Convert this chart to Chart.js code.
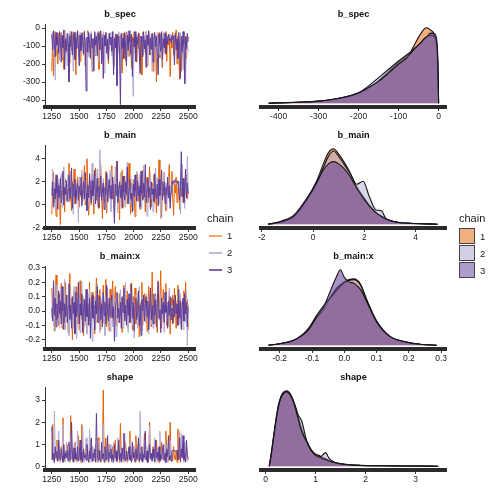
<!DOCTYPE html>
<html>
<head>
<meta charset="utf-8">
<script src="https://cdn.jsdelivr.net/npm/chart.js@4.4.1/dist/chart.umd.min.js"></script>
<style>
  html, body { margin: 0; padding: 0; background: #fff; }
  body { width: 504px; height: 504px; position: relative; overflow: hidden; font-family: "Liberation Sans", Arial, sans-serif; color: #1a1a1a; }
  canvas { position: absolute; }
  .lg { position: absolute; white-space: nowrap; }
  .lg-title { font-size: 11px; line-height: 13px; }
  .lg-lab { font-size: 9.5px; line-height: 11px; }
  .lg-line { position: absolute; height: 2px; width: 13px; }
  .lg-box { position: absolute; width: 16px; height: 16px; border: 1px solid #444; box-sizing: border-box; }
</style>
</head>
<body>
<canvas id="trace0" width="205" height="129" style="left:0px;top:0px"></canvas>
<canvas id="trace1" width="205" height="129" style="left:0px;top:121px"></canvas>
<canvas id="trace2" width="205" height="129" style="left:0px;top:242px"></canvas>
<canvas id="trace3" width="205" height="129" style="left:0px;top:363px"></canvas>
<canvas id="dens0" width="210" height="129" style="left:250px;top:0px"></canvas>
<canvas id="dens1" width="210" height="129" style="left:250px;top:121px"></canvas>
<canvas id="dens2" width="210" height="129" style="left:250px;top:242px"></canvas>
<canvas id="dens3" width="210" height="129" style="left:250px;top:363px"></canvas>

<!-- legend for trace lines -->
<div class="lg lg-title" style="left:207px;top:212px">chain</div>
<div class="lg-line" style="left:209px;top:235px;background:rgba(230,97,1,0.55)"></div>
<div class="lg-line" style="left:209px;top:252px;background:rgba(178,171,210,0.8)"></div>
<div class="lg-line" style="left:209px;top:269px;background:rgba(94,60,153,0.8)"></div>
<div class="lg lg-lab" style="left:227px;top:230px">1</div>
<div class="lg lg-lab" style="left:227px;top:247px">2</div>
<div class="lg lg-lab" style="left:227px;top:264px">3</div>

<!-- legend for densities -->
<div class="lg lg-title" style="left:459px;top:212px">chain</div>
<div class="lg-box" style="left:459px;top:228px;background:#F2B080"></div>
<div class="lg-box" style="left:459px;top:245px;background:#D4CFE6"></div>
<div class="lg-box" style="left:459px;top:262px;background:#AE9DCC"></div>
<div class="lg lg-lab" style="left:480px;top:231px">1</div>
<div class="lg lg-lab" style="left:480px;top:248px">2</div>
<div class="lg lg-lab" style="left:480px;top:265px">3</div>

<script>
const chains = ['1', '2', '3']
const traceColors = ['#E66101', '#B2ABD2', '#5E3C99']
const densFills = ['rgba(230,97,1,0.5)', 'rgba(178,171,210,0.5)', 'rgba(94,60,153,0.55)']

// iterations shown in the trace plots (thinned draws)
const iterStart = 1250
const iterEnd = 2500
const iterTicks = [1250, 1500, 1750, 2000, 2250, 2500]

// ---- b_spec ----
const bSpecTrace1 = [
  -240,-40,-265,-90,-20,-150,-60,-200,-30,-115,
  -70,-25,-175,-45,-230,-15,-100,-55,-140,-35,
  -80,-195,-30,-125,-60,-20,-165,-45,-260,-75,
  -20,-110,-40,-185,-55,-95,-25,-150,-35,-210,
  -65,-130,-15,-90,-45,-170,-30,-240,-60,-105,
  -25,-155,-50,-85,-20,-230,-40,-120,-70,-35,
  -180,-45,-100,-25,-140,-60,-200,-30,-90,-55,
  -130,-20,-230,-50,-110,-35,-165,-75,-25,-145,
  -40,-95,-250,-30,-125,-60,-180,-20,-85,-45,
  -155,-35,-105,-225,-50,-75,-20,-140,-40,-190,
  -60,-115,-30,-175,-45,-260,-25,-95,-70,-135,
  -20,-210,-50,-100,-35,-150,-65,-30,-240,-80,
  -40,-125,-300,-55,-90,-25,-165,-45,-110,-220,
  -30,-70,-140,-20,-185,-50,-95,-35,-270,-60,
  -110,-25,-150,-40,-80,-10,-200,-45,-130,-285,
  -30,-240,-60,-105,-20,-290,-45,-170,-80,-50]
const bSpecTrace2 = [
  -60,-20,-140,-35,-290,-75,-25,-115,-50,-180,
  -30,-95,-160,-40,-70,-20,-125,-55,-210,-35,
  -85,-15,-150,-45,-100,-240,-30,-130,-65,-20,
  -110,-50,-175,-25,-80,-140,-40,-95,-15,-200,
  -60,-125,-30,-160,-45,-90,-20,-230,-55,-105,
  -35,-150,-70,-25,-185,-50,-115,-30,-80,-140,
  -20,-250,-60,-100,-35,-165,-45,-120,-25,-90,
  -155,-40,-75,-210,-30,-110,-55,-135,-20,-95,
  -45,-190,-30,-120,-65,-60,-40,-100,-25,-160,
  -70,-35,-145,-55,-225,-380,-105,-60,-175,-40,
  -90,-25,-130,-260,-50,-80,-35,-150,-45,-115,
  -20,-200,-65,-95,-30,-140,-55,-240,-35,-85,
  -125,-40,-170,-25,-100,-60,-150,-30,-215,-50,
  -75,-20,-135,-45,-90,-40,-60,-55,-35,-70,
  -50,-80,-45,-65,-40,-75,-55,-60,-50,-180,
  -25,-140,-60,-230,-35,-110,-310,-45,-90,-130]
const bSpecTrace3 = [
  -35,-120,-15,-80,-160,-25,-95,-50,-140,-20,
  -70,-190,-40,-110,-10,-230,-60,-130,-30,-85,
  -300,-45,-105,-20,-150,-65,-25,-175,-55,-115,
  -15,-90,-210,-40,-125,-30,-70,-145,-20,-100,
  -350,-50,-135,-25,-85,-165,-35,-110,-60,-240,
  -20,-95,-45,-155,-30,-75,-120,-15,-200,-55,
  -280,-40,-100,-25,-140,-65,-180,-30,-90,-50,
  -130,-20,-260,-60,-110,-35,-320,-80,-45,-150,
  -425,-30,-115,-55,-170,-25,-95,-210,-40,-125,
  -15,-75,-145,-35,-270,-60,-105,-20,-185,-50,
  -90,-30,-135,-250,-45,-80,-160,-20,-115,-65,
  -220,-40,-95,-15,-150,-55,-120,-30,-190,-70,
  -25,-105,-45,-160,-260,-35,-85,-130,-20,-175,
  -60,-110,-30,-145,-50,-90,-35,-70,-55,-80,
  -40,-65,-45,-205,-30,-120,-60,-170,-25,-100,
  -280,-45,-135,-20,-90,-310,-50,-115,-30,-75]
const bSpecTicks = [-400, -300, -200, -100, 0]
const bSpecDensTicks = [-400, -300, -200, -100, 0]
const bSpecDensX = [-425,-400,-350,-300,-250,-200,-175,-150,-125,-100,-80,-70,-60,-45,-35,-30,-20,-10,-5,-2,0]
const bSpecDens1 = [0,0.005,0.012,0.025,0.06,0.13,0.2,0.3,0.42,0.54,0.63,0.68,0.78,0.92,0.99,1.0,0.97,0.9,0.75,0.5,0]
const bSpecDens2 = [0,0.005,0.013,0.028,0.065,0.14,0.23,0.34,0.45,0.56,0.64,0.68,0.73,0.8,0.86,0.88,0.9,0.88,0.8,0.55,0]
const bSpecDens3 = [0,0.006,0.014,0.028,0.065,0.14,0.21,0.29,0.4,0.52,0.6,0.66,0.72,0.8,0.86,0.88,0.93,0.92,0.85,0.6,0]

// ---- b_main ----
const bMainTrace1 = [
  -0.8,1.6,2.8,0.2,1.3,-1.0,2.5,0.7,1.9,0.4,
  -1.7,1.9,0.5,2.9,1.2,-0.6,2.2,0.9,1.4,0.3,
  3.6,0.3,1.5,-0.5,2.0,1.0,3.1,0.1,1.7,0.6,
  2.4,1.2,-0.2,1.8,0.7,2.6,0.4,1.3,3.4,0.0,
  1.1,4.0,0.6,-0.9,2.4,1.2,0.0,2.7,1.4,-0.8,
  1.9,3.2,0.4,1.1,2.3,-0.3,1.6,3.5,0.8,-1.2,
  2.0,1.3,0.2,2.9,-0.7,1.4,0.9,2.2,0.5,1.7,
  3.4,0.5,1.8,-0.9,2.6,1.0,3.8,0.3,1.5,-1.3,
  2.1,0.8,3.0,-0.2,1.3,2.5,0.6,1.9,0.1,1.2,
  3.6,0.6,-0.8,1.9,0.4,2.2,1.0,-1.0,1.6,0.8,
  2.7,0.3,1.4,-0.4,2.1,1.1,3.0,0.5,1.7,-0.6,
  1.5,2.4,0.2,1.2,3.3,0.7,-0.2,1.9,0.9,2.6,
  0.1,1.6,-0.7,2.3,1.0,3.9,0.4,1.4,-1.1,2.0,
  0.8,2.8,1.2,-0.5,1.7,0.6,2.2,3.5,0.3,1.5,
  2.9,0.6,-0.9,1.8,1.0,2.4,0.2,1.3,2.0,-0.4,
  1.6,0.8,1.5,0.2,2.0,0.9,1.4,2.6,0.5,1.1]
const bMainTrace2 = [
  1.2,3.1,0.3,1.9,-0.4,2.4,0.9,1.5,2.2,0.1,
  1.6,2.7,-0.2,1.1,3.3,0.6,2.0,0.4,1.3,2.6,
  0.4,1.7,2.9,0.7,1.4,-0.8,1.9,1.0,2.2,0.5,
  1.8,-1.5,2.4,0.8,1.2,3.0,0.3,1.6,2.1,0.9,
  0.2,1.7,0.6,0.8,-0.3,2.1,1.2,3.6,0.5,1.9,
  -0.2,2.5,1.0,3.1,0.3,1.6,4.8,2.8,1.1,0.6,
  2.3,1.4,0.9,-0.4,1.8,2.6,0.2,1.4,3.0,-0.6,
  1.5,2.4,0.7,-1.1,3.3,1.0,2.1,-0.7,1.7,0.5,
  2.8,0.9,1.6,0.3,2.2,1.1,-0.2,1.8,3.7,0.6,
  1.3,0.1,2.5,1.0,1.7,-0.5,2.0,0.8,1.4,2.9,
  0.4,1.9,1.1,2.6,-0.3,1.5,0.7,3.4,1.2,0.2,
  1.8,-1.0,2.3,0.9,1.4,2.7,0.5,1.6,-0.6,2.1,
  1.0,3.2,0.4,1.7,2.4,0.1,1.3,-1.2,2.0,0.8,
  1.5,2.8,0.6,1.9,-0.4,1.2,2.5,0.3,1.6,0.9,
  1.8,1.9,1.7,1.8,1.9,2.0,1.8,1.9,1.7,2.0,
  -0.8,2.2,3.5,0.6,1.4,-0.3,2.1,0.8,4.2,1.1]
const bMainTrace3 = [
  0.8,2.0,-0.2,1.4,0.5,2.6,1.0,-0.4,1.7,0.6,
  2.3,0.2,1.2,2.9,0.0,1.5,0.9,2.1,0.3,1.3,
  2.6,0.5,1.1,3.2,-0.3,1.8,0.7,2.2,0.1,1.3,
  1.9,0.4,1.6,0.9,2.4,-0.1,1.2,2.0,0.5,2.8,
  1.0,-0.5,1.7,0.6,2.7,1.3,0.2,2.1,0.8,1.5,
  3.0,0.1,1.1,2.3,-0.2,1.6,0.7,2.5,0.4,1.2,
  1.9,-0.4,1.5,0.9,2.8,0.3,1.4,2.2,0.6,1.7,
  0.5,2.4,1.0,-1.6,1.8,0.8,3.8,0.2,1.3,2.0,
  0.6,1.7,-0.3,2.5,1.1,0.4,2.0,0.9,3.3,0.1,
  1.4,2.2,0.5,1.0,-0.6,1.8,0.7,2.6,1.2,0.3,
  2.1,0.8,1.6,-0.2,2.9,1.0,0.4,1.9,0.7,3.5,
  0.2,1.3,2.3,0.6,1.5,-0.4,2.0,0.9,1.4,0.3,
  2.7,1.1,0.5,1.8,-0.1,2.2,0.8,1.6,3.0,0.4,
  1.2,2.0,0.1,1.5,0.9,2.4,0.6,1.7,-0.3,1.1,
  2.0,1.8,2.1,1.9,2.2,2.0,1.9,2.1,1.3,0.4,
  1.6,4.6,0.7,2.3,0.2,1.5,3.1,0.6,1.9,1.0]
const bMainTicks = [-2, 0, 2, 4]
const bMainDensTicks = [-2, 0, 2, 4]
const bMainDensX = [-1.75,-1.25,-0.75,-0.25,0.15,0.4,0.6,0.8,1.0,1.2,1.45,1.7,1.95,2.2,2.45,2.65,2.85,3.1,3.4,3.9,4.4,4.85]
const bMainDens1 = [0,0.03,0.11,0.33,0.58,0.8,0.95,1.0,0.93,0.83,0.68,0.5,0.37,0.25,0.16,0.1,0.07,0.04,0.02,0.01,0.005,0]
const bMainDens2 = [0,0.03,0.1,0.32,0.55,0.75,0.9,0.97,0.9,0.8,0.67,0.53,0.57,0.36,0.19,0.18,0.07,0.04,0.02,0.01,0.005,0]
const bMainDens3 = [0,0.04,0.12,0.34,0.56,0.72,0.8,0.83,0.8,0.74,0.63,0.48,0.35,0.24,0.15,0.11,0.07,0.04,0.02,0.01,0.005,0]

// ---- b_main:x ----
const bMainXTrace1 = [
  0.16,-0.02,0.08,-0.14,0.1,0.25,-0.06,0.03,-0.1,0.12,
  -0.04,0.19,-0.12,0.06,0.0,-0.08,0.2,-0.03,0.11,-0.15,
  0.07,0.26,-0.05,0.09,-0.2,0.02,0.14,-0.11,0.05,0.17,
  -0.09,0.04,-0.13,0.21,0.0,-0.06,0.1,-0.17,0.08,0.03,
  -0.1,0.15,0.01,-0.07,0.2,-0.12,0.06,0.13,-0.04,0.09,
  -0.16,0.05,0.23,-0.08,0.11,-0.02,0.15,-0.13,0.07,0.0,
  0.18,-0.09,0.04,0.22,-0.11,0.08,0.02,-0.14,0.15,-0.05,
  0.1,0.21,-0.07,0.03,0.17,-0.1,0.0,0.06,-0.08,0.12,
  -0.03,0.09,-0.15,0.05,0.18,-0.06,0.11,-0.01,0.14,-0.12,
  0.04,-0.08,0.19,0.02,-0.13,0.1,-0.05,0.16,-0.09,0.07,
  0.01,0.13,-0.18,0.06,-0.04,0.2,-0.1,0.03,0.12,-0.07,
  0.08,-0.14,0.05,0.17,-0.02,0.1,-0.11,0.27,-0.06,0.04,
  -0.09,0.12,0.0,-0.15,0.21,-0.04,0.07,0.28,-0.12,0.05,
  0.15,-0.07,0.03,0.19,-0.1,0.06,-0.02,0.13,-0.16,0.09,
  -0.04,0.11,-0.08,0.16,0.02,-0.12,0.07,0.18,-0.05,0.01,
  0.1,-0.11,0.06,-0.03,0.14,-0.07,0.2,-0.01,0.08,-0.13]
const bMainXTrace2 = [
  -0.05,0.12,-0.1,0.05,-0.14,0.18,0.0,-0.07,0.09,-0.12,
  0.04,0.16,-0.09,0.02,-0.05,0.22,-0.13,0.07,-0.02,0.1,
  -0.17,0.05,0.13,-0.08,0.01,-0.12,0.17,-0.04,0.08,-0.19,
  0.06,-0.02,0.11,-0.15,0.03,0.2,-0.06,0.09,-0.11,0.01,
  0.07,-0.16,0.12,-0.03,0.15,-0.09,0.04,-0.21,0.08,-0.02,
  0.1,-0.13,0.05,0.19,-0.06,0.01,-0.15,0.09,-0.04,0.13,
  -0.08,0.06,-0.17,0.11,-0.01,0.16,-0.1,0.03,-0.14,0.07,
  0.02,-0.11,0.14,-0.05,0.08,-0.18,0.04,0.12,-0.07,0.0,
  0.15,-0.04,0.06,-0.12,0.1,-0.02,0.2,-0.09,0.03,-0.15,
  0.09,-0.06,0.13,0.0,-0.1,0.07,-0.19,0.05,0.11,-0.03,
  -0.12,0.04,0.17,-0.07,0.02,-0.14,0.1,-0.01,0.06,-0.08,
  0.12,-0.05,0.03,-0.16,0.08,0.14,-0.09,0.01,-0.12,0.07,
  -0.02,0.1,-0.13,0.05,0.18,-0.06,0.03,-0.1,0.13,-0.04,
  0.08,-0.15,0.02,0.11,-0.07,0.05,-0.11,0.16,-0.03,0.04,
  -0.02,-0.03,-0.01,-0.02,-0.03,-0.02,-0.01,-0.03,-0.02,-0.09,
  0.12,-0.05,0.04,-0.13,0.09,0.02,-0.08,0.14,-0.24,0.05]
const bMainXTrace3 = [
  0.02,-0.07,0.21,-0.03,0.09,-0.11,0.05,-0.05,0.14,-0.02,
  0.07,-0.09,0.17,0.0,-0.13,0.05,-0.04,0.11,-0.08,0.03,
  0.19,-0.06,0.04,-0.12,0.1,-0.02,0.06,-0.16,0.13,-0.04,
  0.03,0.2,-0.09,0.05,-0.03,0.12,-0.15,0.02,0.08,-0.07,
  0.15,-0.04,0.05,-0.1,0.09,-0.19,0.01,0.11,-0.05,0.04,
  -0.13,0.07,-0.02,0.17,-0.08,0.03,0.1,-0.06,0.05,-0.11,
  0.13,-0.03,0.06,-0.09,0.18,0.0,-0.07,0.09,-0.04,0.05,
  0.11,-0.05,0.03,-0.21,0.0,0.07,0.13,-0.05,0.02,-0.08,
  0.06,-0.12,0.1,-0.01,0.16,-0.07,0.04,-0.1,0.08,-0.03,
  0.12,-0.08,0.02,0.19,-0.05,0.06,-0.14,0.03,0.09,-0.06,
  -0.02,0.14,-0.1,0.04,-0.17,0.08,0.0,0.11,-0.07,0.05,
  0.1,-0.04,0.07,-0.13,0.02,0.16,-0.06,0.04,-0.09,0.12,
  -0.03,0.08,-0.11,0.05,0.2,-0.05,0.01,-0.15,0.09,-0.02,
  0.06,-0.08,0.13,-0.01,0.04,-0.12,0.07,-0.03,0.1,-0.06,
  0.02,-0.09,0.08,-0.04,0.11,-0.02,0.05,-0.1,0.15,-0.05,
  0.07,-0.13,0.03,0.09,-0.07,0.12,-0.02,0.06,-0.11,0.03]
const bMainXTicks = [-0.2, -0.1, 0.0, 0.1, 0.2, 0.3]
const bMainXDensTicks = [-0.2, -0.1, 0.0, 0.1, 0.2, 0.3]
const bMainXDensX = [-0.235,-0.2,-0.16,-0.13,-0.11,-0.085,-0.065,-0.045,-0.025,-0.012,0.0,0.015,0.03,0.05,0.07,0.1,0.14,0.19,0.24,0.286]
const bMainXDens1 = [0,0.02,0.06,0.13,0.21,0.37,0.46,0.62,0.75,0.8,0.84,0.87,0.88,0.81,0.6,0.32,0.12,0.045,0.01,0]
const bMainXDens2 = [0,0.02,0.06,0.14,0.23,0.4,0.52,0.62,0.72,0.78,0.83,0.86,0.87,0.8,0.59,0.32,0.12,0.04,0.01,0]
const bMainXDens3 = [0,0.02,0.06,0.13,0.21,0.38,0.5,0.7,0.9,1.0,0.9,0.84,0.82,0.74,0.57,0.31,0.12,0.045,0.01,0]

// ---- shape ----
const shapeTrace1 = [
  0.3,1.9,0.5,0.2,0.8,0.35,1.2,0.25,0.6,0.4,
  0.2,0.9,0.3,2.2,0.5,0.25,0.7,0.4,1.0,0.3,
  0.6,0.2,2.3,0.45,0.3,0.8,0.25,1.1,0.35,0.55,
  0.25,1.4,0.3,0.6,0.2,1.9,0.4,0.7,0.25,0.5,
  1.0,0.3,0.55,0.2,0.85,0.4,1.2,0.3,0.6,0.25,
  0.8,0.35,0.5,0.2,1.3,0.45,0.3,0.7,0.25,0.4,
  3.45,0.2,0.6,1.3,0.35,0.75,0.25,1.0,0.4,0.55,
  0.2,0.9,0.3,0.6,1.2,0.25,0.5,0.35,0.8,0.2,
  1.95,0.4,0.6,0.25,0.85,0.3,1.1,0.45,0.2,0.7,
  0.35,1.6,0.25,0.55,0.3,0.9,0.4,0.2,1.4,0.5,
  0.3,0.7,0.2,1.0,0.45,0.25,0.6,0.35,1.5,0.3,
  0.5,0.2,0.8,0.4,2.0,0.3,0.6,0.25,0.9,0.35,
  0.7,0.25,1.2,0.4,0.55,0.2,0.8,0.3,1.1,0.45,
  0.3,0.6,0.2,1.6,0.4,0.7,0.25,0.5,2.0,0.35,
  0.6,0.25,0.9,0.4,0.3,0.75,0.2,1.7,0.35,0.55,
  0.2,0.8,0.45,1.0,0.3,0.6,0.25,0.9,0.5,0.3]
const shapeTrace2 = [
  0.4,1.2,0.2,2.5,0.6,0.3,0.9,0.25,1.6,0.5,
  0.2,0.8,0.35,1.9,0.3,0.6,0.2,1.1,0.45,0.3,
  0.7,0.2,1.4,0.4,0.55,0.25,1.0,0.3,0.65,0.2,
  1.6,0.35,0.5,0.25,0.85,0.3,1.8,0.45,0.2,0.7,
  1.3,0.25,0.6,0.3,1.7,0.45,0.2,0.9,0.3,0.6,
  0.35,1.0,0.25,0.55,0.2,1.2,0.4,0.7,0.25,0.5,
  1.9,0.3,0.5,0.2,0.8,0.4,0.65,0.25,1.0,0.35,
  0.6,0.2,1.1,0.45,0.3,0.75,0.2,1.3,0.4,0.55,
  0.25,0.9,0.35,0.6,0.2,1.5,0.3,0.7,0.45,0.25,
  0.8,0.3,1.2,0.2,0.55,0.4,0.95,0.25,0.6,0.3,
  1.0,0.4,0.2,2.5,0.35,0.7,0.25,0.5,1.2,0.3,
  0.6,0.2,0.9,0.4,1.8,0.3,0.5,0.25,0.75,0.35,
  1.3,0.3,0.6,0.2,0.85,0.4,1.6,0.25,0.5,0.3,
  0.7,0.25,1.0,0.35,0.55,0.2,0.9,0.4,1.2,0.3,
  0.72,0.7,0.68,0.71,0.73,0.7,0.69,0.72,0.5,1.6,
  0.3,1.5,0.4,0.6,0.2,1.1,0.35,0.8,0.25,0.4]
const shapeTrace3 = [
  1.8,0.3,0.6,0.2,0.9,0.4,0.7,0.25,1.2,0.5,
  0.3,0.8,0.5,0.2,1.0,0.35,0.6,0.4,0.75,0.25,
  1.1,0.45,0.3,2.0,0.55,0.2,0.85,0.35,0.6,0.3,
  0.9,0.25,0.5,1.2,0.3,0.65,0.2,0.8,0.4,0.55,
  0.3,1.0,0.45,0.2,0.7,0.35,1.3,0.25,0.6,0.4,
  0.8,0.2,2.4,0.5,0.3,0.75,0.4,0.2,1.1,0.35,
  0.6,0.25,0.9,0.45,0.3,1.4,0.2,0.65,0.4,0.8,
  0.3,0.55,0.2,1.0,0.4,0.7,0.25,0.5,1.2,0.3,
  0.6,0.2,0.85,0.35,1.5,0.45,0.25,0.7,0.3,0.55,
  0.9,0.3,0.5,0.2,1.1,0.4,0.65,0.25,0.8,0.35,
  0.45,1.3,0.25,0.6,0.3,0.9,0.2,0.55,0.4,1.6,
  0.3,0.7,0.2,0.5,1.0,0.35,0.6,0.25,0.8,0.45,
  0.2,1.2,0.4,0.65,0.3,0.9,0.25,0.55,0.35,0.75,
  1.0,0.3,0.6,0.2,0.8,0.45,1.4,0.3,0.5,0.25,
  0.7,0.75,0.7,0.72,0.68,0.7,0.74,0.3,0.6,1.3,
  0.25,0.8,0.4,1.4,0.3,0.6,0.2,1.2,0.5,0.4]
const shapeTicks = [0, 1, 2, 3]
const shapeDensTicks = [0, 1, 2, 3]
const shapeDensX = [0.07,0.1,0.15,0.2,0.25,0.3,0.35,0.42,0.5,0.58,0.65,0.72,0.82,0.92,1.0,1.08,1.14,1.2,1.27,1.4,1.6,1.9,2.3,2.8,3.45]
const shapeDens1 = [0,0.12,0.36,0.6,0.8,0.92,0.98,1.0,0.95,0.82,0.66,0.5,0.33,0.21,0.16,0.14,0.12,0.1,0.07,0.045,0.025,0.012,0.007,0.004,0]
const shapeDens2 = [0,0.1,0.33,0.57,0.77,0.9,0.96,0.98,0.93,0.82,0.68,0.6,0.34,0.2,0.14,0.12,0.15,0.18,0.1,0.045,0.022,0.01,0.006,0.003,0]
const shapeDens3 = [0,0.11,0.35,0.58,0.78,0.9,0.96,0.99,0.94,0.8,0.62,0.46,0.32,0.2,0.15,0.12,0.1,0.09,0.07,0.045,0.022,0.01,0.006,0.003,0]

const tickFont = { family: '"Liberation Sans", Arial, sans-serif', size: 8.5 }
const titleFont = { family: '"Liberation Sans", Arial, sans-serif', size: 9.2, weight: 'bold' }

function fixedTicks(values) {
  return function(scale) { scale.ticks = values.map(v => ({ value: v })) }
}

function titleOpts(text) {
  return {
    display: true, text: text, fullSize: false, color: '#111',
    font: titleFont, padding: { top: 9, bottom: 4 }
  }
}

function xAxisOpts(min, max, ticks, digits) {
  return {
    type: 'linear', min: min, max: max,
    afterBuildTicks: fixedTicks(ticks),
    afterFit: function(s) { s.height = 22 },
    grid: { display: true, drawOnChartArea: false, tickLength: 4, tickColor: '#333', tickWidth: 1 },
    border: { display: true, color: '#2b2b2b', width: 4 },
    ticks: {
      autoSkip: false, maxRotation: 0, padding: 1, color: '#1a1a1a', font: tickFont,
      callback: v => v.toFixed(digits)
    }
  }
}

function traceChart(id, title, series, yMin, yMax, yTicks, digits) {
  const ctx = document.getElementById(id).getContext('2d')
  new Chart(ctx, {
    type: 'line',
    data: {
      datasets: series.map((vals, c) => ({
        label: chains[c],
        data: vals.map((v, i) => ({ x: iterStart + i * (iterEnd - iterStart) / (vals.length - 1), y: v })),
        borderColor: traceColors[c],
        borderWidth: 1,
        pointRadius: 0,
        tension: 0,
        order: 3 - c
      }))
    },
    options: {
      responsive: false,
      animation: false,
      events: [],
      layout: { padding: { left: 0, right: 10, top: 0, bottom: 0 } },
      plugins: {
        legend: { display: false },
        tooltip: { enabled: false },
        title: titleOpts(title)
      },
      scales: {
        x: xAxisOpts(1187.5, 2562.5, iterTicks, 0),
        y: {
          min: yMin, max: yMax,
          afterBuildTicks: fixedTicks(yTicks),
          afterFit: function(s) { s.width = 45 },
          grid: { display: true, drawOnChartArea: false, tickLength: 3, tickColor: '#333' },
          border: { display: true, color: '#333', width: 1 },
          ticks: { padding: 2, color: '#1a1a1a', font: tickFont, callback: v => v.toFixed(digits) }
        }
      }
    }
  })
}

function densChart(id, title, xs, dens, xMin, xMax, xTicks, digits) {
  const ctx = document.getElementById(id).getContext('2d')
  new Chart(ctx, {
    type: 'line',
    data: {
      datasets: dens.map((vals, c) => ({
        label: chains[c],
        data: vals.map((v, i) => ({ x: xs[i], y: v })),
        borderColor: '#151515',
        borderWidth: 1.1,
        backgroundColor: densFills[c],
        fill: 'origin',
        pointRadius: 0,
        cubicInterpolationMode: 'monotone',
        order: 3 - c
      }))
    },
    options: {
      responsive: false,
      animation: false,
      events: [],
      layout: { padding: { left: 11, right: 14, top: 0, bottom: 0 } },
      plugins: {
        legend: { display: false },
        tooltip: { enabled: false },
        title: titleOpts(title)
      },
      scales: {
        x: xAxisOpts(xMin, xMax, xTicks, digits),
        y: { display: false, min: -0.05, max: 1.05 }
      }
    }
  })
}

traceChart('trace0', 'b_spec', [bSpecTrace1, bSpecTrace2, bSpecTrace3], -438.9, 22.2, bSpecTicks, 0)
traceChart('trace1', 'b_main', [bMainTrace1, bMainTrace2, bMainTrace3], -2.0, 5.18, bMainTicks, 0)
traceChart('trace2', 'b_main:x', [bMainXTrace1, bMainXTrace2, bMainXTrace3], -0.264, 0.3125, bMainXTicks, 1)
traceChart('trace3', 'shape', [shapeTrace1, shapeTrace2, shapeTrace3], -0.148, 3.585, shapeTicks, 0)

densChart('dens0', 'b_spec', bSpecDensX, [bSpecDens1, bSpecDens2, bSpecDens3], -444, 18.5, bSpecDensTicks, 0)
densChart('dens1', 'b_main', bMainDensX, [bMainDens1, bMainDens2, bMainDens3], -2.027, 5.18, bMainDensTicks, 0)
densChart('dens2', 'b_main:x', bMainXDensX, [bMainXDens1, bMainXDens2, bMainXDens3], -0.258, 0.315, bMainXDensTicks, 1)
densChart('dens3', 'shape', shapeDensX, [shapeDens1, shapeDens2, shapeDens3], -0.094, 3.606, shapeDensTicks, 0)
</script>
</body>
</html>
